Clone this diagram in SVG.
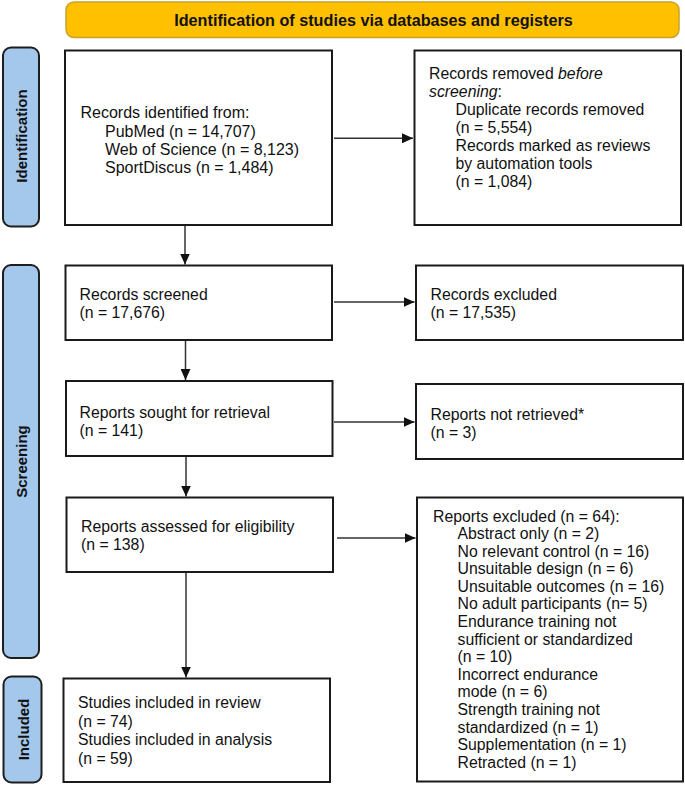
<svg xmlns="http://www.w3.org/2000/svg" width="685" height="786" viewBox="0 0 685 786">
<defs>
<style>
.box{fill:#fff;stroke:#1a1a1a;stroke-width:2}
.pill{fill:#a4c7ec;stroke:#1e1e1e;stroke-width:2}
.t{font-family:"Liberation Sans",Arial,sans-serif;font-size:15.8px;fill:#111}
.b{font-family:"Liberation Sans",Arial,sans-serif;font-size:15px;font-weight:bold;fill:#111}
.c{stroke:#333;stroke-width:1.5;fill:none;marker-end:url(#ah)}
</style>
<marker id="ah" markerWidth="11" markerHeight="10" refX="11" refY="5" orient="auto" markerUnits="userSpaceOnUse">
<path d="M0,0 L11,5 L0,10 Z" fill="#111"/>
</marker>
</defs>
<rect width="685" height="786" fill="#fff"/>

<g id="banner">
<rect x="66" y="2" width="613" height="35.5" rx="8" fill="#ffc000" stroke="#c9a227" stroke-width="1.5"/>
<text class="b" x="373.5" y="26" text-anchor="middle" style="font-size:16.2px">Identification of studies via databases and registers</text>
</g>

<g id="phase-identification">
<rect class="pill" x="3" y="47.5" width="36" height="179" rx="8"/>
<text class="b" transform="translate(27,136) rotate(-90)" text-anchor="middle">Identification</text>
</g>
<g id="phase-screening">
<rect class="pill" x="3" y="265" width="36" height="393" rx="8"/>
<text class="b" transform="translate(27,461.5) rotate(-90)" text-anchor="middle">Screening</text>
</g>
<g id="phase-included">
<rect class="pill" x="3.5" y="676.5" width="38" height="106" rx="8"/>
<text class="b" transform="translate(28.5,729.5) rotate(-90)" text-anchor="middle">Included</text>
</g>

<g id="records-identified">
<rect class="box" x="65" y="50.5" width="267" height="174.5"/>
<text class="t" x="80.5" y="118" style="font-size:16px">Records identified from:</text>
<text class="t" x="105" y="136.5" style="font-size:16px">PubMed (n = 14,707)</text>
<text class="t" x="105" y="155" style="font-size:16px">Web of Science (n = 8,123)</text>
<text class="t" x="105" y="173" style="font-size:16px">SportDiscus (n = 1,484)</text>
</g>

<g id="records-removed">
<rect class="box" x="414.5" y="50.5" width="266.5" height="174.5"/>
<text class="t" x="429" y="79">Records removed <tspan font-style="italic">before</tspan></text>
<text class="t" x="429" y="97"><tspan font-style="italic">screening</tspan>:</text>
<text class="t" x="455.5" y="115">Duplicate records removed</text>
<text class="t" x="455.5" y="133">(n = 5,554)</text>
<text class="t" x="455.5" y="151">Records marked as reviews</text>
<text class="t" x="455.5" y="169">by automation tools</text>
<text class="t" x="455.5" y="187">(n = 1,084)</text>
</g>

<g id="records-screened">
<rect class="box" x="65.5" y="265.5" width="266.5" height="74.5"/>
<text class="t" x="79.5" y="300">Records screened</text>
<text class="t" x="79.5" y="318">(n = 17,676)</text>
</g>

<g id="records-excluded">
<rect class="box" x="416" y="265.5" width="267" height="74.5"/>
<text class="t" x="430.5" y="300">Records excluded</text>
<text class="t" x="430.5" y="318">(n = 17,535)</text>
</g>

<g id="reports-sought">
<rect class="box" x="66" y="381" width="266.5" height="75"/>
<text class="t" x="79.5" y="418">Reports sought for retrieval</text>
<text class="t" x="79.5" y="436">(n = 141)</text>
</g>

<g id="reports-not-retrieved">
<rect class="box" x="416" y="384" width="267" height="75"/>
<text class="t" x="430.5" y="420">Reports not retrieved*</text>
<text class="t" x="430.5" y="438">(n = 3)</text>
</g>

<g id="reports-assessed">
<rect class="box" x="66.5" y="497.5" width="266.5" height="74.5"/>
<text class="t" x="81" y="531.5">Reports assessed for eligibility</text>
<text class="t" x="81" y="549.5">(n = 138)</text>
</g>

<g id="reports-excluded">
<rect class="box" x="417" y="497.5" width="266" height="284"/>
<text class="t" x="433" y="521.5">Reports excluded (n = 64):</text>
<text class="t" x="457.5" y="539">Abstract only (n = 2)</text>
<text class="t" x="457.5" y="556.6">No relevant control (n = 16)</text>
<text class="t" x="457.5" y="574.2">Unsuitable design (n = 6)</text>
<text class="t" x="457.5" y="591.8">Unsuitable outcomes (n = 16)</text>
<text class="t" x="457.5" y="609.4">No adult participants (n= 5)</text>
<text class="t" x="457.5" y="627">Endurance training not</text>
<text class="t" x="457.5" y="644.6">sufficient or standardized</text>
<text class="t" x="457.5" y="662.2">(n = 10)</text>
<text class="t" x="457.5" y="679.8">Incorrect endurance</text>
<text class="t" x="457.5" y="697.4">mode (n = 6)</text>
<text class="t" x="457.5" y="715">Strength training not</text>
<text class="t" x="457.5" y="732.6">standardized (n = 1)</text>
<text class="t" x="457.5" y="750.2">Supplementation (n = 1)</text>
<text class="t" x="457.5" y="767.8">Retracted (n = 1)</text>
</g>

<g id="studies-included">
<rect class="box" x="63.5" y="678.5" width="266.5" height="103.5"/>
<text class="t" x="78" y="708">Studies included in review</text>
<text class="t" x="78" y="726.5">(n = 74)</text>
<text class="t" x="78" y="745">Studies included in analysis</text>
<text class="t" x="78" y="763.5">(n = 59)</text>
</g>

<g id="connectors">
<line class="c" x1="334" y1="138.3" x2="413" y2="138.3"/>
<line class="c" x1="334" y1="302" x2="414.5" y2="302"/>
<line class="c" x1="334" y1="422" x2="414.5" y2="422"/>
<line class="c" x1="337" y1="538" x2="415.5" y2="538"/>
<line class="c" x1="185" y1="226" x2="185" y2="264.5"/>
<line class="c" x1="185.5" y1="341" x2="185.5" y2="380"/>
<line class="c" x1="186" y1="457" x2="186" y2="496.5"/>
<line class="c" x1="186" y1="573" x2="186" y2="677.5"/>
</g>
</svg>
